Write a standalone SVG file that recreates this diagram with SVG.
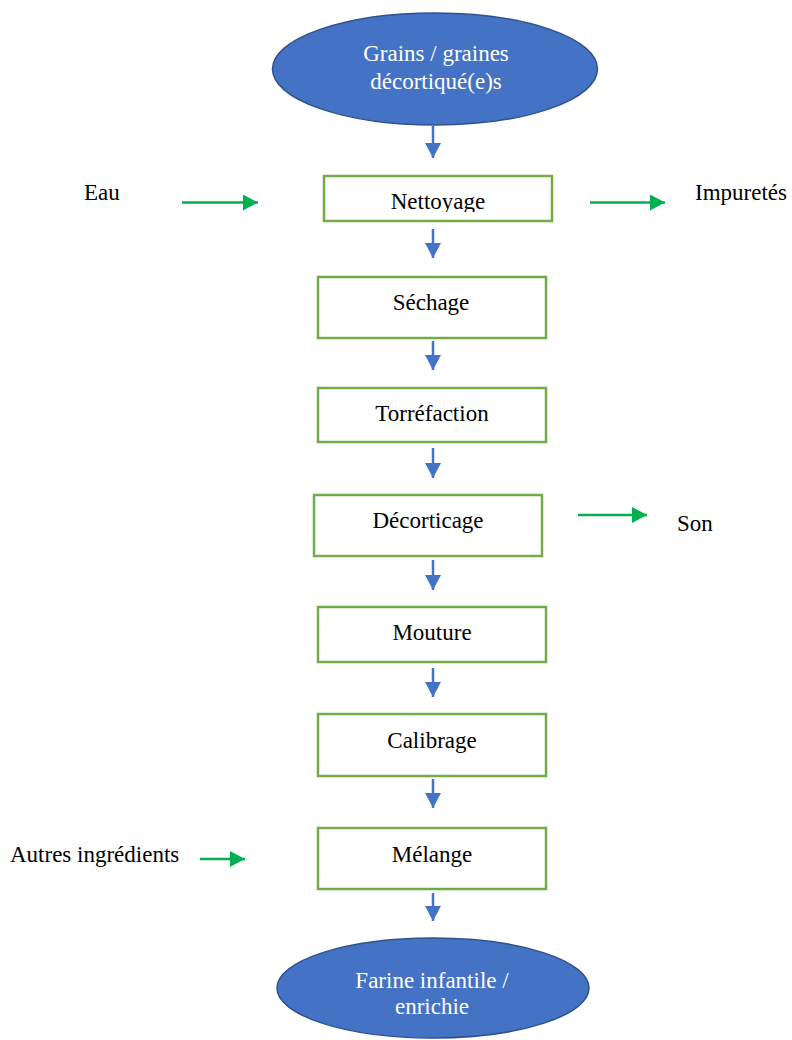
<svg xmlns="http://www.w3.org/2000/svg" width="792" height="1040" viewBox="0 0 792 1040">
<style>
text{font-family:"Liberation Serif","Times New Roman",serif;font-size:23px;fill:#000}
.term{fill:#4472C4;stroke:#2F528F;stroke-width:1.5}
.termtxt{fill:#fff;text-anchor:middle}
.box{fill:#fff;stroke:#70AD47;stroke-width:2.5}
.lbl{text-anchor:middle}
.flow{stroke:#4472C4;stroke-width:2.5;fill:none;marker-end:url(#blueHead)}
.side{stroke:#00B050;stroke-width:2.5;fill:none;marker-end:url(#greenHead)}
</style>
<defs>
<marker id="blueHead" markerUnits="userSpaceOnUse" markerWidth="16" markerHeight="16" refX="15" refY="8" orient="auto"><path d="M0,0 L15,8 L0,16 Z" fill="#4472C4"/></marker>
<marker id="greenHead" markerUnits="userSpaceOnUse" markerWidth="16" markerHeight="16" refX="15" refY="8" orient="auto"><path d="M0,0 L15,8 L0,16 Z" fill="#00B050"/></marker>
<clipPath id="clipNet"><rect x="324" y="176" width="228" height="36"/></clipPath>
</defs>
<g id="start">
<ellipse class="term" cx="435" cy="69" rx="162.5" ry="56"/>
<text class="termtxt" x="436" y="61">Grains / graines</text>
<text class="termtxt" x="436" y="89">décortiqué(e)s</text>
</g>
<g id="nettoyage">
<rect class="box" x="324" y="176" width="228" height="45"/>
<text class="lbl" x="438" y="209" clip-path="url(#clipNet)">Nettoyage</text>
</g>
<g id="sechage">
<rect class="box" x="318" y="277" width="228" height="61"/>
<text class="lbl" x="431" y="310">Séchage</text>
</g>
<g id="torrefaction">
<rect class="box" x="318" y="388" width="228" height="54"/>
<text class="lbl" x="432" y="421">Torréfaction</text>
</g>
<g id="decorticage">
<rect class="box" x="314" y="495" width="228" height="61"/>
<text class="lbl" x="428" y="528">Décorticage</text>
</g>
<g id="mouture">
<rect class="box" x="318" y="607" width="228" height="55"/>
<text class="lbl" x="432" y="640">Mouture</text>
</g>
<g id="calibrage">
<rect class="box" x="318" y="714" width="228" height="62"/>
<text class="lbl" x="432" y="748">Calibrage</text>
</g>
<g id="melange">
<rect class="box" x="318" y="828" width="228" height="61"/>
<text class="lbl" x="432" y="862">Mélange</text>
</g>
<g id="end">
<ellipse class="term" cx="433" cy="988" rx="156" ry="50"/>
<text class="termtxt" x="432" y="988">Farine infantile /</text>
<text class="termtxt" x="432" y="1014">enrichie</text>
</g>
<g id="eau"><text x="84" y="200">Eau</text></g>
<g id="impuretes"><text x="695" y="200">Impuretés</text></g>
<g id="son"><text x="677" y="531">Son</text></g>
<g id="autres"><text x="10" y="862">Autres ingrédients</text></g>
<g id="connectors">
<line class="flow" x1="433" y1="126" x2="433" y2="158"/>
<line class="flow" x1="433" y1="229" x2="433" y2="258"/>
<line class="flow" x1="433" y1="341" x2="433" y2="370"/>
<line class="flow" x1="433" y1="448" x2="433" y2="478"/>
<line class="flow" x1="433" y1="560" x2="433" y2="590"/>
<line class="flow" x1="433" y1="668" x2="433" y2="697"/>
<line class="flow" x1="433" y1="779" x2="433" y2="808"/>
<line class="flow" x1="433" y1="893" x2="433" y2="921"/>
<line class="side" x1="182" y1="202.5" x2="258" y2="202.5"/>
<line class="side" x1="590" y1="202.5" x2="665" y2="202.5"/>
<line class="side" x1="578" y1="515" x2="647" y2="515"/>
<line class="side" x1="200" y1="859" x2="245" y2="859"/>
</g>
</svg>
